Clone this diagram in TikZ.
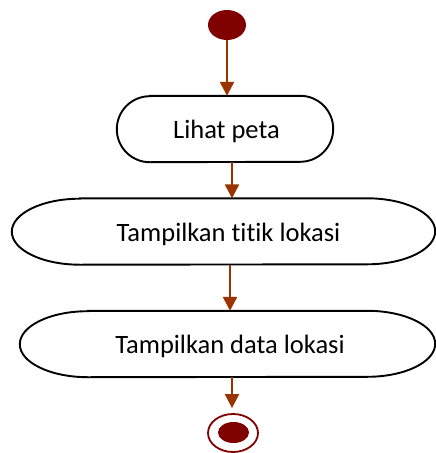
\documentclass[tikz,border=0pt]{standalone}
\usepackage{fontspec}
\setmainfont[Ligatures={NoCommon,NoContextual},RawFeature={-liga,-clig,-dlig,-calt}]{Carlito}
\usetikzlibrary{arrows.meta,shapes.geometric}
\definecolor{arrowc}{RGB}{153,51,0}
\definecolor{dotc}{RGB}{128,0,0}
\tikzset{
  flow/.style={draw=arrowc, line width=2.4pt, -{Triangle[length=14pt,width=14pt]}},
  boxline/.style={draw=black, line width=1.9pt, fill=white},
  actbox/.style={inner sep=0pt, font=\fontsize{26.5}{30}\selectfont},
  startdot/.style={ellipse, fill=dotc, inner sep=0pt, minimum width=38pt, minimum height=30pt},
  endring/.style={ellipse, draw=dotc, line width=1.8pt, fill=white, inner sep=0pt, minimum width=50pt, minimum height=38pt},
  enddot/.style={ellipse, fill=dotc, inner sep=0pt, minimum width=31pt, minimum height=21pt}
}
\newcommand{\capsule}[2]{% node name, end radius
  \draw[boxline] ([xshift=#2]#1.north west) -- ([xshift=-#2]#1.north east)
    arc[start angle=90, end angle=-90, x radius=#2, y radius=33pt]
    -- ([xshift=#2]#1.south west)
    arc[start angle=270, end angle=90, x radius=#2, y radius=33pt] -- cycle;}
\begin{document}
\begin{tikzpicture}[x=1pt,y=-1pt]
\useasboundingbox (0,0) rectangle (436,453);
% boxes (invisible frames for anchors)
\node[actbox, minimum width=216pt, minimum height=66pt] (b1) at (225,129) {};
\node[actbox, minimum width=423pt, minimum height=66pt] (b2) at (223.5,231.5) {};
\node[actbox, minimum width=415pt, minimum height=66pt] (b3) at (227.5,344) {};
\capsule{b1}{33pt}
\capsule{b2}{68pt}
\capsule{b3}{68pt}
\node[actbox] (t1) at (226.5,131) {Lihat peta};
\node[actbox] (t2) at (228.5,234) {Tampilkan titik lokasi};
\node[actbox] (t3) at (230,346) {Tampilkan data lokasi};
% start and end
\node[startdot] (start) at (227,25) {};
\node[endring] (endr) at (233,433) {};
\node[enddot] (endd) at (233.5,432.5) {};
% connectors
\draw[flow] (start.south) -- (start.south |- b1.north);
\draw[flow] ([xshift=7pt]b1.south) -- ([xshift=7pt]b1.south |- b2.north);
\draw[flow] ([xshift=6.5pt]b2.south) -- ([xshift=6.5pt]b2.south |- b3.north);
\draw[flow, shorten >=5pt] ([xshift=4.5pt]b3.south) -- ([xshift=4.5pt]b3.south |- endr.north);
\end{tikzpicture}
\end{document}
